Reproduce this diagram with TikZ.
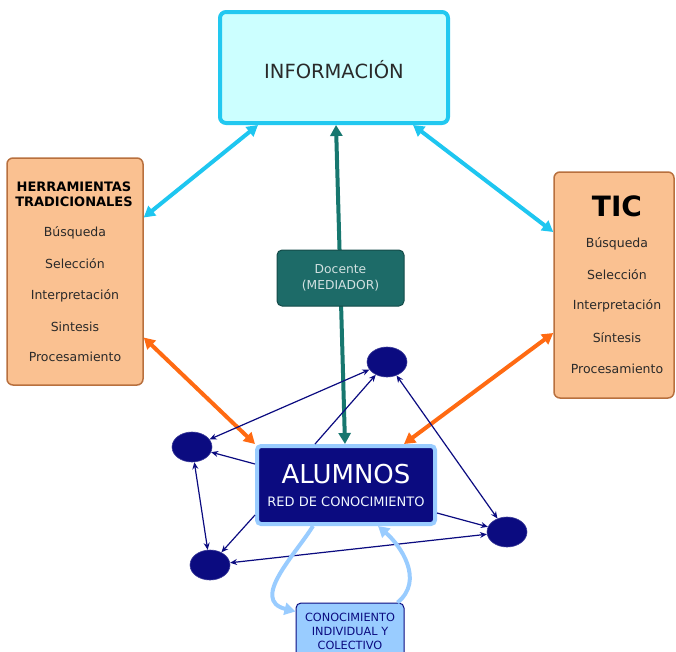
\documentclass[tikz,border=0pt]{standalone}
\usepackage{fontspec}
\setmainfont{DejaVu Sans}
\usetikzlibrary{arrows.meta,shapes.geometric}
\definecolor{infofill}{HTML}{CCFFFF}
\definecolor{infoline}{HTML}{22C8F0}
\definecolor{cyanarr}{HTML}{1EC6F0}
\definecolor{peach}{HTML}{FAC191}
\definecolor{peachline}{HTML}{B8703E}
\definecolor{tealbox}{HTML}{1D6B68}
\definecolor{tealarr}{HTML}{17776F}
\definecolor{orangearr}{HTML}{FF6A12}
\definecolor{navy}{HTML}{0B0B80}
\definecolor{lightblue}{HTML}{99CCFF}
\definecolor{txtgrey}{HTML}{2A2A2A}
\tikzset{
  boxinfo/.style={draw=infoline,line width=4pt,fill=infofill,rounded corners=6pt,inner sep=0pt},
  boxpeach/.style={draw=peachline,line width=1.5pt,fill=peach,rounded corners=6pt,inner sep=0pt},
  boxteal/.style={draw=tealbox!70!black,line width=1pt,fill=tealbox,rounded corners=5pt,inner sep=0pt},
  boxalu/.style={draw=lightblue,line width=4pt,fill=navy,rounded corners=4pt,inner sep=0pt},
  boxcon/.style={draw=navy,line width=1pt,fill=lightblue,rounded corners=5pt,inner sep=0pt},
  stud/.style={ellipse,fill=navy,draw=navy!80!white,line width=0.6pt,minimum width=40pt,minimum height=30pt,inner sep=0pt},
  item/.style={font=\fontsize{12.5}{14}\selectfont,text=txtgrey,inner sep=0pt},
  bigarr/.style={line width=4pt,{Triangle[length=11pt,width=12pt]}-{Triangle[length=11pt,width=12pt]}},
  bigone/.style={line width=4pt,-{Triangle[length=11pt,width=12pt]}},
  thinboth/.style={draw=navy,line width=1.2pt,{Stealth[length=7pt,width=6pt]}-{Stealth[length=7pt,width=6pt]}},
  thinone/.style={draw=navy,line width=1.2pt,-{Stealth[length=7pt,width=6pt]}},
}
\begin{document}
\begin{tikzpicture}[x=1pt,y=-1pt]
\useasboundingbox (0,0) rectangle (676,651);
% boxes
\node[boxinfo,minimum width=228pt,minimum height=111pt] (info) at (334,67.5) {};
\node[font=\fontsize{19.5}{22}\selectfont,text=txtgrey] (infot) at (334,70) {INFORMACIÓN};

\node[boxpeach,minimum width=136pt,minimum height=227pt] (herr) at (75,271.5) {};
\node[font=\bfseries\fontsize{13}{15}\selectfont,align=center,inner sep=0pt] (herrt) at (74,194) {HERRAMIENTAS\\TRADICIONALES};
\node[item] (h1) at (75,233) {Búsqueda};
\node[item] (h2) at (75,264) {Selección};
\node[item] (h3) at (75,296) {Interpretación};
\node[item] (h4) at (75,327) {Sintesis};
\node[item] (h5) at (75,357) {Procesamiento};

\node[boxpeach,minimum width=120pt,minimum height=226pt] (tic) at (614,285) {};
\node[font=\bfseries\fontsize{28}{30}\selectfont,inner sep=0pt] (tict) at (617,206) {TIC};
\node[item] (t1) at (617,244) {Búsqueda};
\node[item] (t2) at (617,275) {Selección};
\node[item] (t3) at (617,306) {Interpretación};
\node[item] (t4) at (617,338) {Síntesis};
\node[item] (t5) at (617,369) {Procesamiento};

\node[boxalu,minimum width=178pt,minimum height=78pt] (alu) at (346,485) {};
\node[font=\fontsize{26}{28}\selectfont,text=white,inner sep=0pt] (alut) at (346,474) {ALUMNOS};
\node[font=\fontsize{13}{14}\selectfont,text=white!85!lightblue,inner sep=0pt] (alus) at (346,502) {RED DE CONOCIMIENTO};

\node[boxcon,minimum width=108pt,minimum height=60pt] (con) at (350,633) {};
\node[font=\fontsize{11.3}{14}\selectfont,text=navy,align=center,inner sep=0pt] (cont) at (350,631) {CONOCIMIENTO\\INDIVIDUAL Y\\COLECTIVO};

% students
\node[stud] (e1) at (387,362) {};
\node[stud] (e2) at (192,447) {};
\node[stud] (e3) at (210,565) {};
\node[stud] (e4) at (507,532) {};

% big arrows
\draw[bigarr,draw=cyanarr,color=cyanarr] ([xshift=-76pt]info.south) -- ([yshift=54pt]herr.east);
\draw[bigarr,draw=cyanarr,color=cyanarr] ([xshift=79pt]info.south) -- ([yshift=53pt]tic.west);
\draw[bigarr,draw=orangearr,color=orangearr] ([yshift=-66pt]herr.east) -- (alu.north west);
\draw[bigarr,draw=orangearr,color=orangearr] ([yshift=-48pt]tic.west) -- ([xshift=-33pt]alu.north east);
\draw[bigarr,draw=tealarr,color=tealarr] ([xshift=2pt]info.south) -- ([xshift=-1pt]alu.north);

% docente box over teal arrow
\node[boxteal,minimum width=127pt,minimum height=56pt] (doc) at (340.5,278) {};
\node[font=\fontsize{12.3}{16}\selectfont,text=white!80!tealbox,align=center,inner sep=0pt] (doct) at (340.5,278) {Docente\\(MEDIADOR)};

% thin network arrows
\draw[thinboth] (e1) -- (e2);
\draw[thinone] ([xshift=-31pt]alu.north) -- (e1);
\draw[thinone] ([yshift=21pt]alu.west) -- (e2);
\draw[thinboth] (e2) -- (e3);
\draw[thinone] ([yshift=-30pt]alu.west) -- (e3);
\draw[thinboth] (e1) -- (e4);
\draw[thinone] ([yshift=-28pt]alu.east) -- (e4);
\draw[thinboth] (e3) -- (e4);

% loops
\draw[bigone,draw=lightblue,color=lightblue] ([xshift=-33pt]alu.south) .. controls (295,555) and (250,600) .. ([yshift=-9pt]con.north west);
\draw[bigone,draw=lightblue,color=lightblue] ([xshift=-7pt]con.north east) .. controls (425,580) and (400,545) .. ([xshift=32pt]alu.south);
\end{tikzpicture}
\end{document}
